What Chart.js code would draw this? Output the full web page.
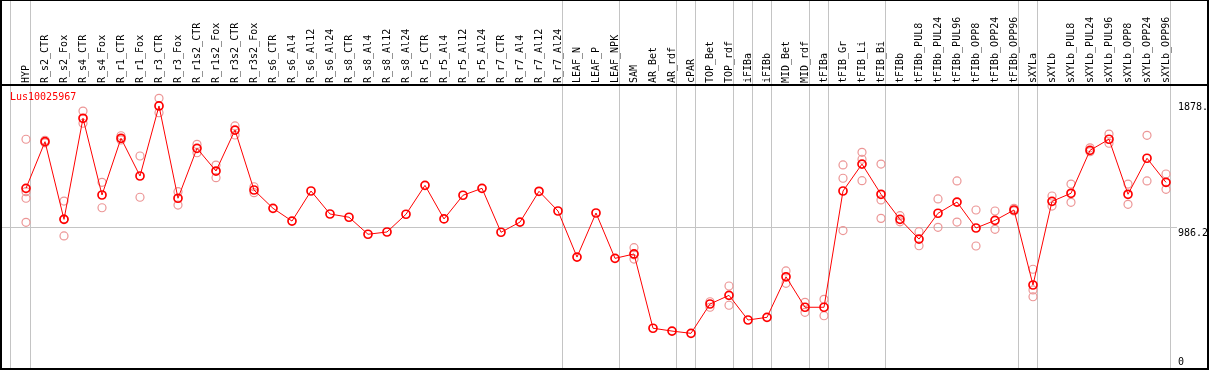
<!DOCTYPE html>
<html>
<head>
<meta charset="utf-8">
<script src="https://cdn.jsdelivr.net/npm/chart.js@4.4.1/dist/chart.umd.min.js"></script>
<style>
  html, body { margin: 0; padding: 0; background: #fff; }
  #wrap { width: 1209px; height: 370px; }
</style>
</head>
<body>
<div id="wrap"><canvas id="geneChart" width="1209" height="370"></canvas></div>
<script>
const geneName = "Lus10025967";

const samples = [
    "HYP", "R_s2_CTR", "R_s2_Fox", "R_s4_CTR", "R_s4_Fox", "R_r1_CTR", "R_r1_Fox",
    "R_r3_CTR", "R_r3_Fox", "R_r1s2_CTR", "R_r1s2_Fox", "R_r3s2_CTR", "R_r3s2_Fox",
    "R_s6_CTR", "R_s6_Al4", "R_s6_Al12", "R_s6_Al24",
    "R_s8_CTR", "R_s8_Al4", "R_s8_Al12", "R_s8_Al24",
    "R_r5_CTR", "R_r5_Al4", "R_r5_Al12", "R_r5_Al24",
    "R_r7_CTR", "R_r7_Al4", "R_r7_Al12", "R_r7_Al24",
    "LEAF_N", "LEAF_P", "LEAF_NPK",
    "SAM", "AR_Bet", "AR_rdf", "cPAR", "TOP_Bet", "TOP_rdf", "iFIBa", "iFIBb",
    "MID_Bet", "MID_rdf", "tFIBa", "tFIB_Gr", "tFIB_Li", "tFIB_Bi",
    "tFIBb", "tFIBb_PUL8", "tFIBb_PUL24", "tFIBb_PUL96", "tFIBb_OPP8", "tFIBb_OPP24", "tFIBb_OPP96",
    "sXYLa", "sXYLb", "sXYLb_PUL8", "sXYLb_PUL24", "sXYLb_PUL96", "sXYLb_OPP8", "sXYLb_OPP24", "sXYLb_OPP96"
];

// mean expression per sample (red line)
const meanValues = [
    1264, 1593, 1045, 1758, 1217, 1617, 1351, 1845, 1194, 1546, 1386, 1675, 1252,
    1123, 1033, 1245, 1083,
    1060, 940, 956, 1081,
    1285, 1048, 1215, 1264,
    954, 1026, 1243, 1104,
    779, 1090, 770,
    801, 277, 257, 241, 448, 509, 335, 354, 640, 425, 425,
    1245, 1435, 1222, 1045, 906, 1088, 1167, 984, 1038, 1111,
    582, 1172, 1229, 1532, 1610, 1222, 1476, 1306
];

// individual replicates (pale circles)
const replicateValues = [
    [1610, 1240, 1194, 1024], [1603, 1585], [1174, 1048, 928], [1809, 1723],
    [1306, 1127], [1635, 1605], [1492, 1201], [1899, 1797], [1240, 1146],
    [1574, 1515], [1428, 1339], [1704, 1640], [1275, 1233],
    [], [], [], [],
    [], [], [], [],
    [], [], [], [],
    [], [], [], [],
    [], [], [],
    [845, 795, 765], [], [], [], [464, 425], [575, 439], [], [],
    [681, 594], [460, 389], [481, 365],
    [1429, 1335, 966], [1518, 1469, 1318], [1435, 1182, 1052],
    [1071, 1028], [958, 859], [1189, 989], [1316, 1026], [1111, 857], [1104, 975], [1123, 1104],
    [693, 547, 499], [1210, 1139], [1294, 1165], [1550, 1522], [1647, 1582],
    [1294, 1151], [1638, 1316], [1365, 1257]
];

const yTickValues = [0, 986.2, 1878];
const yTickLabels = ["0", "986.2", "1878."];

// sample index after which a group separator is drawn
const groupEnds = [0, 28, 31, 34, 35, 37, 38, 39, 41, 42, 45, 52, 53, 60];
const sepOffset = 0.237;
const leftEdge = -0.816;

const FONT = '"DejaVu Sans Mono", "Liberation Mono", monospace';

const meanPoints = meanValues.map((v, i) => ({ x: i, y: v }));
const repPoints = [];
replicateValues.forEach((vals, i) => {
    vals.forEach(v => repPoints.push({ x: i, y: v }));
});

const framePlugin = {
    id: 'frame',
    beforeDatasetsDraw(chart) {
        const ctx = chart.ctx;
        const xs = chart.scales.x;
        const seps = [leftEdge].concat(groupEnds.map(i => i + sepOffset));
        ctx.save();
        ctx.strokeStyle = '#c4c4c4';
        ctx.lineWidth = 1;
        seps.forEach(v => {
            const px = xs.getPixelForValue(v);
            ctx.beginPath();
            ctx.moveTo(px, 0);
            ctx.lineTo(px, chart.height);
            ctx.stroke();
        });
        ctx.restore();
    },
    afterDraw(chart) {
        const ctx = chart.ctx;
        const area = chart.chartArea;
        const ys = chart.scales.y;
        ctx.save();
        ctx.fillStyle = '#000';
        ctx.fillRect(0, 0, chart.width, 1);
        ctx.fillRect(0, area.top - 2, chart.width, 2);
        ctx.fillRect(0, 0, 2, chart.height);
        ctx.fillRect(chart.width - 2, 0, 2, chart.height);
        ctx.fillRect(0, chart.height - 2, chart.width, 2);

        ctx.font = '10px ' + FONT;
        ctx.textBaseline = 'top';
        ctx.textAlign = 'left';
        yTickValues.forEach((v, k) => {
            const py = Math.min(ys.getPixelForValue(v) + 1, area.bottom - 11);
            ctx.fillText(yTickLabels[k], area.right + 1, py);
        });

        ctx.fillStyle = '#ff0000';
        ctx.fillText(geneName, 10, 92);
        ctx.restore();
    }
};

new Chart(document.getElementById('geneChart'), {
    type: 'scatter',
    data: {
        datasets: [{
            data: meanPoints,
            showLine: true,
            borderColor: '#ff0000',
            borderWidth: 1,
            pointRadius: 4,
            pointBorderWidth: 1.7,
            pointBorderColor: '#ff0000',
            pointBackgroundColor: 'rgba(0,0,0,0)',
            order: 0
        }, {
            data: repPoints,
            showLine: false,
            pointRadius: 4,
            pointBorderWidth: 1.2,
            pointBorderColor: 'rgb(236,150,150)',
            pointBackgroundColor: 'rgba(0,0,0,0)',
            order: 1
        }]
    },
    plugins: [framePlugin],
    options: {
        responsive: false,
        animation: false,
        devicePixelRatio: 1,
        events: [],
        layout: { autoPadding: false, padding: { left: 2, right: 0, top: 0, bottom: 2 } },
        plugins: { legend: { display: false }, tooltip: { enabled: false } },
        scales: {
            x: {
                type: 'linear',
                position: 'top',
                min: -24 / 19,
                max: -24 / 19 + 1175 / 19,
                afterBuildTicks: scale => {
                    scale.ticks = samples.map((s, i) => ({ value: i }));
                },
                afterFit: scale => {
                    scale.height = 86;
                    scale.paddingLeft = 0;
                    scale.paddingRight = 0;
                },
                grid: { display: false, drawTicks: false },
                border: { display: false },
                ticks: {
                    autoSkip: false,
                    minRotation: 90,
                    maxRotation: 90,
                    padding: 3,
                    labelOffset: 12,
                    color: '#000',
                    font: { family: FONT, size: 10 },
                    callback: v => samples[v]
                }
            },
            y: {
                type: 'linear',
                position: 'right',
                min: -3.5,
                max: 1985.8,
                afterBuildTicks: scale => {
                    scale.ticks = yTickValues.map(v => ({ value: v }));
                },
                afterFit: scale => {
                    scale.width = 32;
                    scale.paddingTop = 0;
                    scale.paddingBottom = 0;
                },
                border: { display: false },
                grid: {
                    drawTicks: false,
                    color: c => (c.tick && c.tick.value === 986.2) ? '#c4c4c4' : 'rgba(0,0,0,0)'
                },
                ticks: { display: false }
            }
        }
    }
});
</script>
</body>
</html>
